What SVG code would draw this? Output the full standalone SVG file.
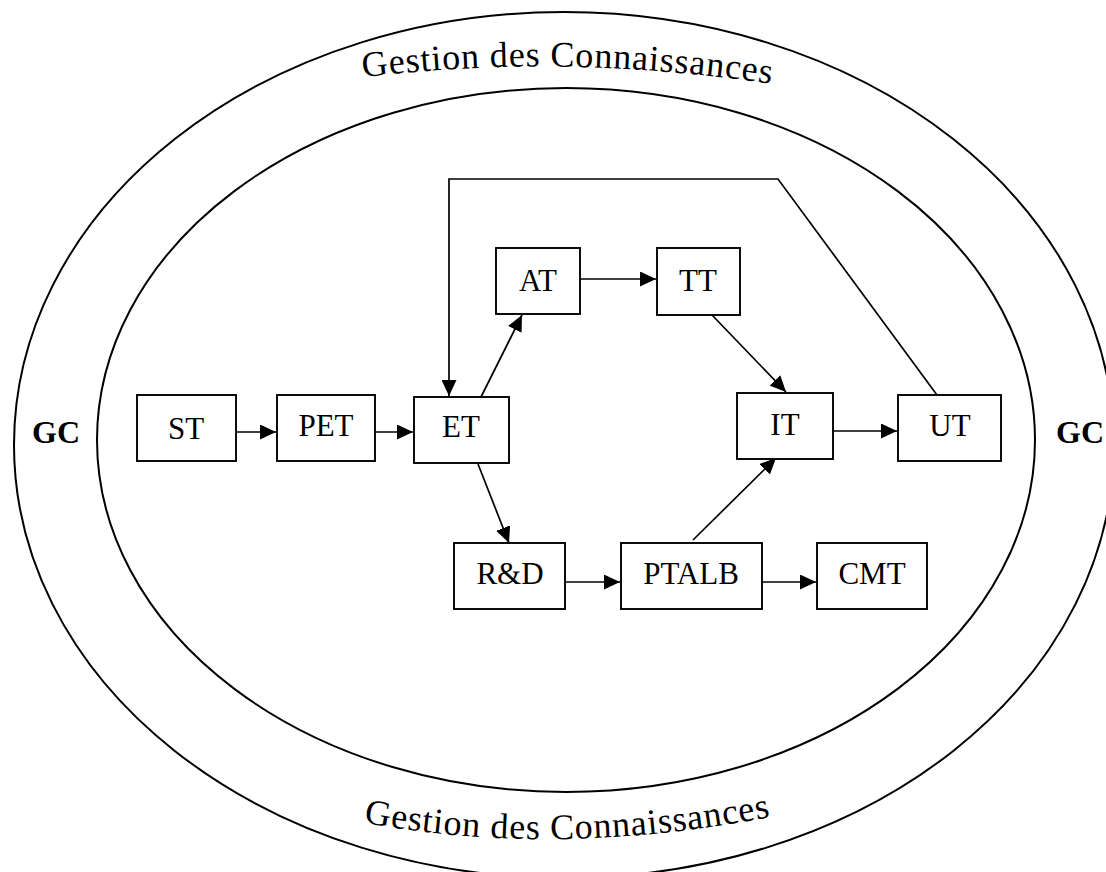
<svg xmlns="http://www.w3.org/2000/svg" xmlns:xlink="http://www.w3.org/1999/xlink" width="1106" height="872" viewBox="0 0 1106 872">
<style>
.ell{fill:none;stroke:#000;stroke-width:2}
.box{fill:#fff;stroke:#000;stroke-width:1.9}
.lbl{font-family:"Liberation Serif","Times New Roman",serif;font-size:31px;fill:#000;text-anchor:middle}
.gc{font-family:"Liberation Serif","Times New Roman",serif;font-size:32px;font-weight:bold;fill:#000;text-anchor:middle}
.arc{font-family:"Liberation Serif","Times New Roman",serif;font-size:36px;letter-spacing:0.8px;fill:#000}
.con{fill:none;stroke:#000;stroke-width:1.7}
</style>
<defs>
<marker id="ah" markerUnits="userSpaceOnUse" markerWidth="16" markerHeight="15" refX="16" refY="7.5" orient="auto">
<path d="M0,0 L16,7.5 L0,15 z" fill="#000"/>
</marker>
<path id="topArc" d="M 350 79 Q 562 51 785 86"/>
<path id="botArc" d="M 350 820 Q 555 861 785 814"/>
</defs>
<rect width="1106" height="872" fill="#fff"/>
<g id="outer-ring">
<ellipse class="ell" cx="564" cy="445" rx="550" ry="433"/>
</g>
<g id="inner-ring">
<ellipse class="ell" cx="566" cy="440" rx="469" ry="352"/>
</g>
<g id="titles">
<text class="arc"><textPath href="#topArc" startOffset="50%" text-anchor="middle">Gestion des Connaissances</textPath></text>
<text class="arc"><textPath href="#botArc" startOffset="50%" text-anchor="middle">Gestion des Connaissances</textPath></text>
<text class="gc" x="56" y="443">GC</text>
<text class="gc" x="1080" y="443">GC</text>
</g>
<g id="connectors">
<line class="con" x1="236" y1="432" x2="276" y2="432" marker-end="url(#ah)"/>
<line class="con" x1="375" y1="432" x2="413" y2="432" marker-end="url(#ah)"/>
<line class="con" x1="481" y1="397" x2="522" y2="315" marker-end="url(#ah)"/>
<line class="con" x1="580" y1="279" x2="656" y2="279" marker-end="url(#ah)"/>
<line class="con" x1="712" y1="315" x2="786" y2="392" marker-end="url(#ah)"/>
<line class="con" x1="833" y1="431" x2="897" y2="431" marker-end="url(#ah)"/>
<line class="con" x1="478" y1="464" x2="509" y2="543" marker-end="url(#ah)"/>
<line class="con" x1="565" y1="582" x2="620" y2="582" marker-end="url(#ah)"/>
<line class="con" x1="693" y1="540" x2="776" y2="458" marker-end="url(#ah)"/>
<line class="con" x1="760" y1="582" x2="816" y2="582" marker-end="url(#ah)"/>
<polyline class="con" points="937,395 778,179 449,179 449,396" marker-end="url(#ah)"/>
</g>
<g id="ST"><rect class="box" x="137" y="395" width="99" height="66"/><text class="lbl" x="186" y="439">ST</text></g>
<g id="PET"><rect class="box" x="277" y="395" width="98" height="66"/><text class="lbl" x="326" y="436">PET</text></g>
<g id="ET"><rect class="box" x="414" y="397" width="95" height="66"/><text class="lbl" x="461" y="437">ET</text></g>
<g id="AT"><rect class="box" x="496" y="248" width="84" height="66"/><text class="lbl" x="538" y="291">AT</text></g>
<g id="TT"><rect class="box" x="657" y="248" width="83" height="67"/><text class="lbl" x="698" y="291">TT</text></g>
<g id="IT"><rect class="box" x="737" y="393" width="96" height="66"/><text class="lbl" x="785" y="435">IT</text></g>
<g id="UT"><rect class="box" x="898" y="395" width="103" height="66"/><text class="lbl" x="950" y="436">UT</text></g>
<g id="RD"><rect class="box" x="454" y="543" width="111" height="66"/><text class="lbl" x="510" y="584">R&amp;D</text></g>
<g id="PTALB"><rect class="box" x="621" y="543" width="141" height="66"/><text class="lbl" x="691" y="584">PTALB</text></g>
<g id="CMT"><rect class="box" x="817" y="543" width="110" height="66"/><text class="lbl" x="872" y="584">CMT</text></g>
</svg>
